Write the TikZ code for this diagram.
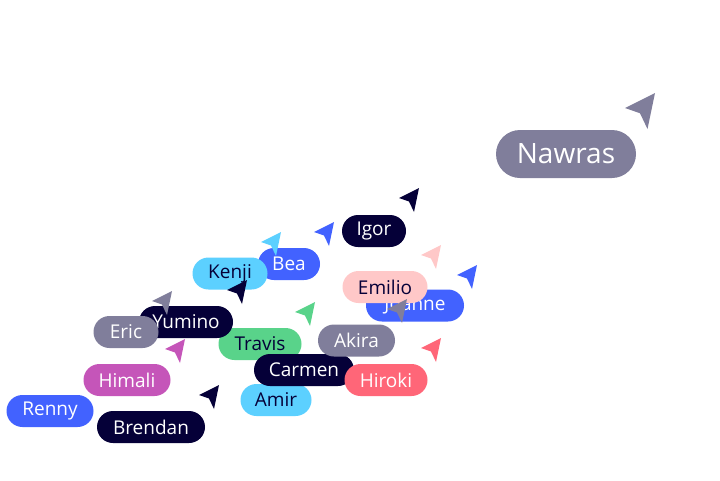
\documentclass[tikz,border=0pt]{standalone}
\usepackage{fontspec}
\setmainfont{Open Sans}
\definecolor{cgrey}{HTML}{807E9B}
\definecolor{cnavy}{HTML}{050038}
\definecolor{cblue}{HTML}{4262FF}
\definecolor{clight}{HTML}{5CD0FF}
\definecolor{cpink}{HTML}{FFC8C8}
\definecolor{cgreen}{HTML}{59D38A}
\definecolor{cmag}{HTML}{C555B9}
\definecolor{cred}{HTML}{FF6678}
\tikzset{
  pill/.style={rounded corners=16pt, minimum height=32pt, inner sep=0pt, text=white, font=\fontsize{19}{22}\selectfont},
  bigpill/.style={rounded corners=24pt, minimum height=48pt, inner sep=0pt, text=white, font=\fontsize{28}{32}\selectfont},
  darktext/.style={text=cnavy},
  pics/cursor/.style={code={\fill[#1] (0,0) -- (-20,10) -- (-10,13.5) -- (-5,24) -- cycle;}}
}
\begin{document}
\begin{tikzpicture}[x=1pt,y=-1pt]
\fill[white] (0,0) rectangle (720,480);
\useasboundingbox (0,0) rectangle (720,480);
% Nawras
\pic[scale=1.5] at (655,93) {cursor=cgrey};
\node[bigpill, fill=cgrey, minimum width=140pt] (nawras) at (566,154) {Nawras};
% Igor
\pic at (419,188) {cursor=cnavy};
\node[pill, fill=cnavy, minimum width=64pt] (igor) at (374,231) {Igor};
% Bea
\pic at (334,222) {cursor=cblue};
\node[pill, fill=cblue, minimum width=62pt] (bea) at (289,264) {Bea};
% Kenji
\pic at (281,232) {cursor=clight};
\node[pill, darktext, fill=clight, minimum width=75pt] (kenji) at (230,273.5) {Kenji};
% Joanne
\pic at (477,265) {cursor=cblue};
\node[pill, fill=cblue, minimum width=98pt] (joanne) at (415,305.5) {Joanne};
% Emilio
\pic at (441,245) {cursor=cpink};
\node[pill, darktext, fill=cpink, minimum width=85pt] (emilio) at (385,287) {Emilio};
% Renny
\pic at (107,370) {cursor=cblue};
\node[pill, fill=cblue, minimum width=87pt] (renny) at (50,411) {Renny};
% Himali
\pic at (185,339) {cursor=cmag};
\node[pill, fill=cmag, minimum width=87pt] (himali) at (127,380) {Himali};
% Amir
\pic at (326,359) {cursor=clight};
\node[pill, darktext, fill=clight, minimum width=71pt] (amir) at (276,400) {Amir};
% Travis
\pic at (315,302) {cursor=cgreen};
\node[pill, darktext, fill=cgreen, minimum width=83pt] (travis) at (260,344) {Travis};
% Carmen
\pic at (368,329) {cursor=cnavy};
\node[pill, fill=cnavy, minimum width=100pt] (carmen) at (304,370) {Carmen};
% Akira
\pic at (407,299) {cursor=cgrey};
\node[pill, fill=cgrey, minimum width=77pt] (akira) at (356.5,340.5) {Akira};
% Hiroki
\pic at (441,338) {cursor=cred};
\node[pill, fill=cred, minimum width=83pt] (hiroki) at (386,380) {Hiroki};
% Yumino
\pic at (247,280) {cursor=cnavy};
\node[pill, fill=cnavy, minimum width=94pt] (yumino) at (186,322) {Yumino};
% Eric
\pic at (172,291) {cursor=cgrey};
\node[pill, fill=cgrey, minimum width=65pt] (eric) at (126,332) {Eric};
% Brendan
\pic at (219,385) {cursor=cnavy};
\node[pill, fill=cnavy, minimum width=108pt] (brendan) at (151,427) {Brendan};
\end{tikzpicture}
\end{document}
